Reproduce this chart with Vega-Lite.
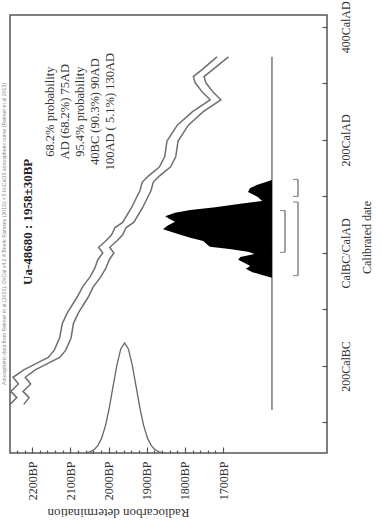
{
  "$schema": "https://vega.github.io/schema/vega-lite/v6.json",
  "width": 317,
  "height": 438,
  "autosize": {"type": "none"},
  "padding": {"left": 10, "top": 15, "right": 55, "bottom": 71},
  "background": "white",
  "config": {
    "font": "Liberation Serif",
    "view": {"stroke": "#555", "strokeWidth": 1.5}
  },
  "title": {
    "text": "Atmospheric data from Reimer et al (2013); OxCal v4.2.4 Bronk Ramsey (2013); r:5 IntCal13 atmospheric curve (Reimer et al 2013)",
    "orient": "left",
    "anchor": "middle",
    "fontSize": 5.2,
    "font": "Liberation Sans",
    "fontWeight": "normal",
    "color": "#888",
    "offset": 3
  },
  "datasets": {
    "curve": [
      {"year": -268, "hi": 2258, "lo": 2222},
      {"year": -256, "hi": 2240, "lo": 2208},
      {"year": -245, "hi": 2256, "lo": 2224},
      {"year": -232, "hi": 2236, "lo": 2204},
      {"year": -220, "hi": 2250, "lo": 2218},
      {"year": -207, "hi": 2222, "lo": 2192},
      {"year": -196, "hi": 2190, "lo": 2160},
      {"year": -185, "hi": 2158, "lo": 2128},
      {"year": -172, "hi": 2142, "lo": 2112},
      {"year": -150, "hi": 2128, "lo": 2098},
      {"year": -125, "hi": 2121, "lo": 2092},
      {"year": -106, "hi": 2108, "lo": 2079},
      {"year": -78, "hi": 2082, "lo": 2053},
      {"year": -60, "hi": 2068, "lo": 2040},
      {"year": -42, "hi": 2048, "lo": 2020},
      {"year": -27, "hi": 2036, "lo": 2007},
      {"year": -12, "hi": 2028, "lo": 1998},
      {"year": 0, "hi": 2015, "lo": 1986},
      {"year": 10, "hi": 2026, "lo": 1997},
      {"year": 22, "hi": 2006, "lo": 1977},
      {"year": 32, "hi": 1992, "lo": 1963},
      {"year": 45, "hi": 1983, "lo": 1954},
      {"year": 54, "hi": 1963, "lo": 1934},
      {"year": 80, "hi": 1940, "lo": 1911},
      {"year": 110, "hi": 1918, "lo": 1889},
      {"year": 125, "hi": 1912, "lo": 1883},
      {"year": 136, "hi": 1896, "lo": 1867},
      {"year": 152, "hi": 1867, "lo": 1838},
      {"year": 170, "hi": 1853, "lo": 1824},
      {"year": 198, "hi": 1847, "lo": 1818},
      {"year": 226, "hi": 1820, "lo": 1791},
      {"year": 250, "hi": 1780, "lo": 1752},
      {"year": 271, "hi": 1734, "lo": 1706},
      {"year": 285, "hi": 1755, "lo": 1727},
      {"year": 301, "hi": 1773, "lo": 1745},
      {"year": 312, "hi": 1778, "lo": 1750},
      {"year": 324, "hi": 1756, "lo": 1728},
      {"year": 347, "hi": 1716, "lo": 1686}
    ],
    "c14": [
      {"bp": 2058, "dens": 0.004},
      {"bp": 2048, "dens": 0.011},
      {"bp": 2038, "dens": 0.029},
      {"bp": 2028, "dens": 0.066},
      {"bp": 2018, "dens": 0.135},
      {"bp": 2008, "dens": 0.249},
      {"bp": 1998, "dens": 0.411},
      {"bp": 1988, "dens": 0.607},
      {"bp": 1978, "dens": 0.801},
      {"bp": 1968, "dens": 0.946},
      {"bp": 1958, "dens": 1.0},
      {"bp": 1948, "dens": 0.946},
      {"bp": 1938, "dens": 0.801},
      {"bp": 1928, "dens": 0.607},
      {"bp": 1918, "dens": 0.411},
      {"bp": 1908, "dens": 0.249},
      {"bp": 1898, "dens": 0.135},
      {"bp": 1888, "dens": 0.066},
      {"bp": 1878, "dens": 0.029},
      {"bp": 1868, "dens": 0.011},
      {"bp": 1858, "dens": 0.004}
    ],
    "calib": [
      {"year": -44, "prob": 0},
      {"year": -39, "prob": 0.09},
      {"year": -34, "prob": 0.18},
      {"year": -28, "prob": 0.24},
      {"year": -23, "prob": 0.2},
      {"year": -18, "prob": 0.25},
      {"year": -12, "prob": 0.31},
      {"year": -7, "prob": 0.29},
      {"year": -2, "prob": 0.16},
      {"year": 2, "prob": 0.22},
      {"year": 7, "prob": 0.39},
      {"year": 11, "prob": 0.57},
      {"year": 16, "prob": 0.6},
      {"year": 21, "prob": 0.63},
      {"year": 27, "prob": 0.75},
      {"year": 32, "prob": 0.84},
      {"year": 37, "prob": 0.92},
      {"year": 42, "prob": 1.0},
      {"year": 48, "prob": 0.96},
      {"year": 55, "prob": 0.89},
      {"year": 60, "prob": 0.94},
      {"year": 65, "prob": 0.98},
      {"year": 71, "prob": 0.89},
      {"year": 76, "prob": 0.75},
      {"year": 81, "prob": 0.52},
      {"year": 87, "prob": 0.29},
      {"year": 92, "prob": 0.09},
      {"year": 99, "prob": 0.13},
      {"year": 108, "prob": 0.22},
      {"year": 115, "prob": 0.2},
      {"year": 120, "prob": 0.14},
      {"year": 129, "prob": 0}
    ],
    "ranges": [
      {"level": "68.2%", "from": 1, "to": 75},
      {"level": "95.4%", "from": -40, "to": 90},
      {"level": "95.4%", "from": 100, "to": 130}
    ],
    "baseline": [{"prob": 0, "start": -278, "end": 347}],
    "labels": [
      {"name": "Ua-48680 : 1958±30BP"}
    ],
    "summary": [
      {"lines": ["68.2% probability", "AD (68.2%) 75AD", "95.4% probability", "40BC (90.3%) 90AD", "100AD ( 5.1%) 130AD"]}
    ]
  },
  "resolve": {"scale": {"x": "independent", "y": "independent"}, "axis": {"x": "independent", "y": "independent"}},
  "layer": [
    {
      "data": {"name": "curve"},
      "transform": [{"fold": ["hi", "lo"], "as": ["bound", "bp"]}],
      "mark": {"type": "line", "color": "#6f6f6f", "strokeWidth": 1.5, "clip": true},
      "encoding": {
        "x": {
          "field": "bp", "type": "quantitative",
          "scale": {"domain": [1428, 2258], "reverse": true, "nice": false, "zero": false},
          "axis": {
            "orient": "bottom",
            "values": [2240, 2220, 2200, 2180, 2160, 2140, 2120, 2100, 2080, 2060, 2040, 2020, 2000, 1980, 1960, 1940, 1920, 1900, 1880, 1860, 1840, 1820, 1800, 1780, 1760, 1740, 1720, 1700],
            "labelExpr": "datum.value % 100 === 0 ? datum.value + 'BP' : ''",
            "labelAngle": 270,
            "labelFontSize": 12,
            "labelFont": "Liberation Serif",
            "labelColor": "#333",
            "labelOverlap": false,
            "labelFlush": false,
            "labelBound": false,
            "labelPadding": 14,
            "tickColor": "#555",
            "tickWidth": 1.2,
            "tickSize": {"condition": {"test": "datum.value % 100 === 0", "value": -6}, "value": -3},
            "domain": false,
            "grid": false,
            "title": "Radiocarbon determination",
            "titleAngle": 180,
            "titleX": 108,
            "titleY": 59,
            "titleAlign": "center",
            "titleBaseline": "middle",
            "titleFont": "Liberation Serif",
            "titleFontSize": 13,
            "titleFontWeight": "normal",
            "titleColor": "#333"
          }
        },
        "y": {
          "field": "year", "type": "quantitative",
          "scale": {"domain": [-354, 421], "nice": false, "zero": false},
          "axis": {
            "orient": "right",
            "values": [-300, -200, -100, 0, 100, 200, 300, 400],
            "labelExpr": "datum.value % 200 !== 0 ? '' : (datum.value === 0 ? 'CalBC/CalAD' : (datum.value < 0 ? (-datum.value) + 'CalBC' : datum.value + 'CalAD'))",
            "labelAngle": 270,
            "labelFontSize": 12,
            "labelFont": "Liberation Serif",
            "labelColor": "#333",
            "labelOverlap": false,
            "labelFlush": false,
            "labelBound": false,
            "labelPadding": 18,
            "tickColor": "#555",
            "tickWidth": 1.2,
            "tickSize": -5,
            "domain": false,
            "grid": false,
            "title": "Calibrated date",
            "titleAngle": 270,
            "titleX": 39,
            "titleY": 222,
            "titleAlign": "center",
            "titleBaseline": "middle",
            "titleFont": "Liberation Serif",
            "titleFontSize": 12,
            "titleFontWeight": "normal",
            "titleColor": "#333"
          }
        },
        "detail": {"field": "bound"},
        "order": {"field": "year", "type": "quantitative"}
      }
    },
    {
      "data": {"name": "c14"},
      "mark": {"type": "line", "color": "#666", "strokeWidth": 1.3},
      "encoding": {
        "x": {"field": "bp", "type": "quantitative", "scale": {"domain": [1428, 2258], "reverse": true, "nice": false, "zero": false}, "axis": null},
        "y": {"field": "dens", "type": "quantitative", "scale": {"domain": [0, 3.98], "nice": false}, "axis": null}
      }
    },
    {
      "data": {"name": "baseline"},
      "mark": {"type": "rule", "color": "#555", "strokeWidth": 1.2},
      "encoding": {
        "x": {"field": "prob", "type": "quantitative", "scale": {"domain": [-0.505, 2.404], "reverse": true, "nice": false, "zero": false}, "axis": null},
        "y": {"field": "start", "type": "quantitative", "scale": {"domain": [-354, 421], "nice": false, "zero": false}, "axis": null},
        "y2": {"field": "end"}
      }
    },
    {
      "data": {"name": "calib"},
      "mark": {"type": "area", "orient": "horizontal", "color": "black"},
      "encoding": {
        "x": {"field": "prob", "type": "quantitative", "scale": {"domain": [-0.505, 2.404], "reverse": true, "nice": false, "zero": false}, "axis": null, "stack": null},
        "x2": {"datum": 0},
        "y": {"field": "year", "type": "quantitative", "scale": {"domain": [-354, 421], "nice": false, "zero": false}, "axis": null}
      }
    },
    {
      "data": {"name": "ranges"},
      "mark": {"type": "rule", "color": "#666", "strokeWidth": 1.2},
      "encoding": {
        "x": {"field": "level", "type": "nominal", "scale": {"type": "point", "domain": ["68.2%", "95.4%"], "range": [275, 288], "padding": 0}, "axis": null},
        "y": {"field": "from", "type": "quantitative", "scale": {"domain": [-354, 421], "nice": false, "zero": false}, "axis": null},
        "y2": {"field": "to"}
      }
    },
    {
      "data": {"name": "ranges"},
      "transform": [{"fold": ["from", "to"], "as": ["end", "yr"]}],
      "mark": {"type": "tick", "orient": "horizontal", "color": "#666", "size": 5, "thickness": 1.2, "xOffset": -2.5},
      "encoding": {
        "x": {"field": "level", "type": "nominal", "scale": {"type": "point", "domain": ["68.2%", "95.4%"], "range": [275, 288], "padding": 0}, "axis": null},
        "y": {"field": "yr", "type": "quantitative", "scale": {"domain": [-354, 421], "nice": false, "zero": false}, "axis": null}
      }
    },
    {
      "data": {"name": "labels"},
      "mark": {"type": "text", "angle": 270, "align": "center", "baseline": "middle", "font": "Liberation Serif", "fontSize": 13, "fontWeight": "bold", "color": "#222"},
      "encoding": {
        "x": {"datum": 2210, "type": "quantitative", "scale": {"domain": [1428, 2258], "reverse": true, "nice": false, "zero": false}, "axis": null},
        "y": {"datum": 55, "type": "quantitative", "scale": {"domain": [-354, 421], "nice": false, "zero": false}, "axis": null},
        "text": {"field": "name"}
      }
    },
    {
      "data": {"name": "summary"},
      "mark": {"type": "text", "angle": 270, "align": "center", "baseline": "top", "font": "Liberation Serif", "fontSize": 12.5, "lineHeight": 15, "color": "#333"},
      "encoding": {
        "x": {"datum": 2169, "type": "quantitative", "scale": {"domain": [1428, 2258], "reverse": true, "nice": false, "zero": false}, "axis": null},
        "y": {"datum": 250, "type": "quantitative", "scale": {"domain": [-354, 421], "nice": false, "zero": false}, "axis": null},
        "text": {"field": "lines"}
      }
    }
  ]
}
